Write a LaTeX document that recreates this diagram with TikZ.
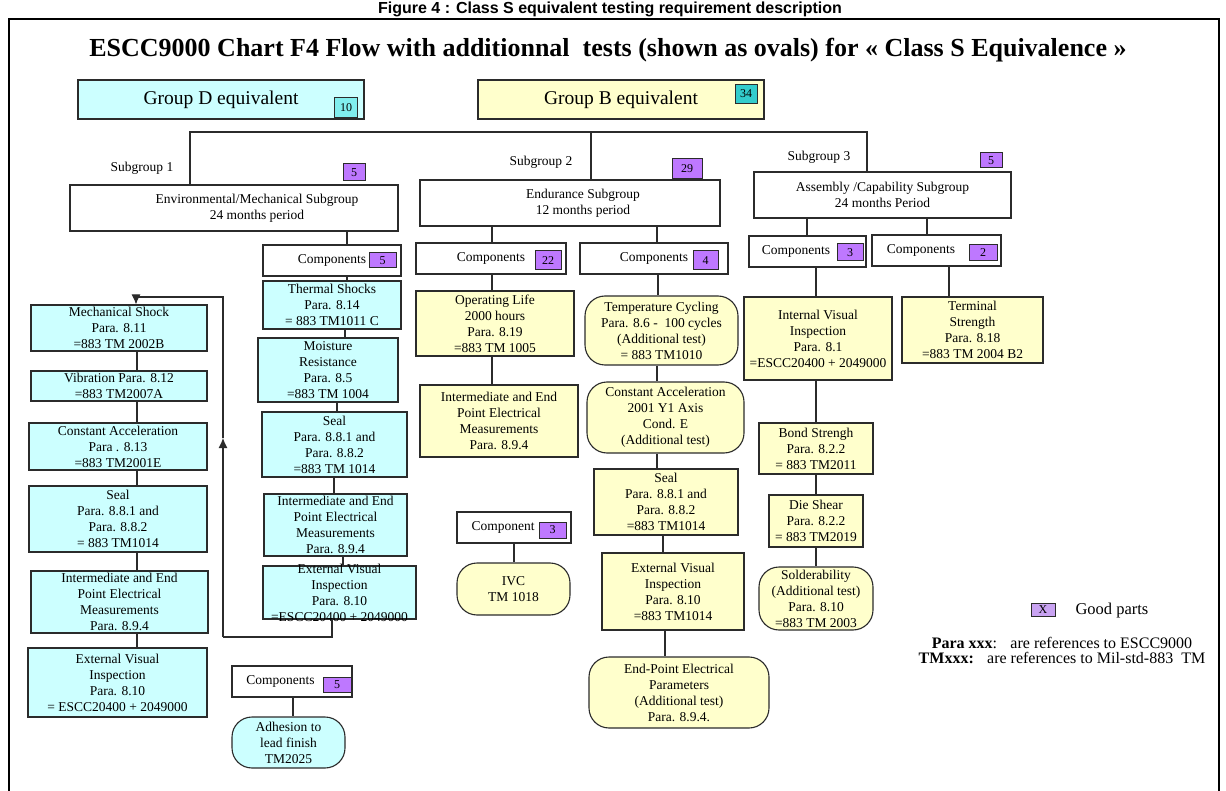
\documentclass[tikz,border=0pt]{standalone}
\usepackage{fontspec}
\setmainfont{Liberation Serif}
\newfontfamily\capfont{Liberation Sans}
\usepackage{tikz}
\usetikzlibrary{arrows.meta}

\definecolor{boxcyan}{HTML}{CCFFFF}
\definecolor{boxyellow}{HTML}{FFFFCC}
\definecolor{badgeviolet}{HTML}{BE78FF}
\definecolor{legendviolet}{HTML}{C9A3F2}
\definecolor{countcyan}{HTML}{80EEEE}
\definecolor{countteal}{HTML}{33CCCC}
\definecolor{linegray}{HTML}{2B2B2B}

\newcommand\fsz[2]{\fontsize{#1}{#2}\selectfont}

\begin{document}
\begin{tikzpicture}[x = 1pt, y = -1pt,
    testbox/.style = {draw = linegray, line width = 1.1pt, align = center,
      inner xsep = 1pt, inner ysep = 0pt, font = \fsz{13.5}{16}},
    dtest/.style = {testbox, fill = boxcyan},
    btest/.style = {testbox, fill = boxyellow},
    compbox/.style = {testbox, fill = white},
    oval/.style = {rounded corners = 20pt},
    badge/.style = {draw = linegray, line width = 1pt, fill = badgeviolet,
      inner sep = 0pt, font = \fsz{12}{12}},
    link/.style = {draw = linegray, line width = 1.1pt},
  ]
  \useasboundingbox (0, 0) rectangle (1226, 791);

  % caption, frame and title
  \node [font = \capfont\bfseries\fsz{16}{16}, anchor = base] (figure caption)
    at (610, 14) {Figure 4 : Class S equivalent testing requirement description};
  \draw [line width = 1.6pt] (9, 800) -- (9, 19) -- (1219, 19) -- (1219, 800);
  \node [font = \bfseries\fsz{26}{28}] (chart title) at (608, 50)
    {ESCC9000 Chart F4 Flow with additionnal~ tests (shown as ovals) for « Class S Equivalence »};

  % group boxes
  \node [dtest, minimum width = 286pt, minimum height = 39pt, font = \fsz{19.5}{21}]
    (group D) at (221, 99.5) {Group D equivalent};
  \node [badge, fill = countcyan, minimum width = 23pt, minimum height = 20pt]
    (group D count) at (346, 108) {10};
  \node [btest, minimum width = 286pt, minimum height = 39pt, font = \fsz{19.5}{21}]
    (group B) at (621, 99.5) {Group B equivalent};
  \node [badge, fill = countteal, minimum width = 22pt, minimum height = 19pt]
    (group B count) at (746, 94) {34};

  % subgroups
  \node [compbox, minimum width = 328pt, minimum height = 46pt] (env subgroup) at (234, 208)
    {\hspace*{46pt}Environmental/Mechanical Subgroup\\\hspace*{46pt}24 months period};
  \node [badge, minimum width = 22pt, minimum height = 17pt] (env count) at (354, 172.5) {5};
  \node [compbox, minimum width = 300pt, minimum height = 46pt] (end subgroup) at (570, 203)
    {\hspace*{26pt}Endurance Subgroup\\\hspace*{26pt}12 months period};
  \node [badge, minimum width = 30pt, minimum height = 20pt] (end count) at (687, 169) {29};
  \node [compbox, minimum width = 257pt, minimum height = 46pt] (asm subgroup) at (882.5, 195)
    {Assembly /Capability Subgroup\\24 months Period};
  \node [badge, minimum width = 22pt, minimum height = 15pt] (asm count) at (991, 160.5) {5};

  \node [font = \fsz{13.5}{15}] (subgroup 1) at (142, 168) {Subgroup 1};
  \node [font = \fsz{13.5}{15}] (subgroup 2) at (541, 162) {Subgroup 2};
  \node [font = \fsz{13.5}{15}] (subgroup 3) at (819, 157) {Subgroup 3};

  \coordinate (bus west) at (190, 132);
  \coordinate (bus middle) at (591, 132);
  \coordinate (bus east) at (867, 132);
  \draw [link] (env subgroup.north -| bus west) -- (bus west) -- (bus east)
    -- (asm subgroup.north -| bus east);
  \draw [link] (bus middle) -- (end subgroup.north -| bus middle);

  % components boxes
  \node [compbox, minimum width = 138pt, minimum height = 31pt] (comp env) at (332, 260.5) {Components};
  \node [badge, minimum width = 27pt, minimum height = 15pt] (comp env count) at (382.5, 260.5) {5};
  \node [compbox, minimum width = 150pt, minimum height = 31pt] (comp life) at (491, 258.5) {Components};
  \node [badge, minimum width = 26pt, minimum height = 19pt] (comp life count) at (548, 260.5) {22};
  \node [compbox, minimum width = 148pt, minimum height = 31pt] (comp cycle) at (654, 258.5) {Components};
  \node [badge, minimum width = 25pt, minimum height = 19pt] (comp cycle count) at (705.5, 260.5) {4};
  \node [compbox, minimum width = 117pt, minimum height = 31pt] (comp internal) at (807.5, 251.5)
    {Components\hspace*{23pt}};
  \node [badge, minimum width = 26pt, minimum height = 17pt] (comp internal count) at (850, 252.5) {3};
  \node [compbox, minimum width = 129pt, minimum height = 31pt] (comp terminal) at (936.5, 250.5)
    {Components\hspace*{31pt}};
  \node [badge, minimum width = 28pt, minimum height = 16pt] (comp terminal count) at (983, 253) {2};

  \draw [link] (env subgroup.south -| 347, 0) -- (comp env.north -| 347, 0);
  \draw [link] (end subgroup.south -| 492, 0) -- (comp life.north -| 492, 0);
  \draw [link] (end subgroup.south -| 657, 0) -- (comp cycle.north -| 657, 0);
  \draw [link] (asm subgroup.south -| 807, 0) -- (comp internal.north -| 807, 0);
  \draw [link] (asm subgroup.south -| 927, 0) -- (comp terminal.north -| 927, 0);

  % group D, first column
  \node [dtest, minimum width = 176pt, minimum height = 46pt] (mech shock) at (119, 328)
    {Mechanical Shock\\Para. 8.11\\=883 TM 2002B};
  \node [dtest, minimum width = 176pt, minimum height = 30pt] (vibration) at (119, 386)
    {Vibration Para. 8.12\\=883 TM2007A};
  \node [dtest, minimum width = 178pt, minimum height = 47pt] (acceleration D) at (118, 446.5)
    {Constant Acceleration\\Para . 8.13\\=883 TM2001E};
  \node [dtest, minimum width = 178pt, minimum height = 66pt] (seal D1) at (118, 519)
    {Seal\\Para. 8.8.1 and\\Para. 8.8.2\\= 883 TM1014};
  \node [dtest, minimum width = 177pt, minimum height = 62pt] (measure D1) at (119.5, 602)
    {Intermediate and End\\Point Electrical\\Measurements\\Para. 8.9.4};
  \node [dtest, minimum width = 179pt, minimum height = 69pt] (visual D1) at (117.5, 682.5)
    {External Visual\\Inspection\\Para. 8.10\\= ESCC20400 + 2049000};

  \draw [link] (mech shock.south -| 137, 0) -- (vibration.north -| 137, 0);
  \draw [link] (vibration.south -| 137, 0) -- (acceleration D.north -| 137, 0);
  \draw [link] (acceleration D.south -| 137, 0) -- (seal D1.north -| 137, 0);
  \draw [link] (seal D1.south -| 137, 0) -- (measure D1.north -| 137, 0);
  \draw [link] (measure D1.south -| 137, 0) -- (visual D1.north -| 137, 0);

  % group D, second column
  \node [dtest, minimum width = 138pt, minimum height = 48pt] (thermal) at (332, 305)
    {Thermal Shocks\\Para. 8.14\\= 883 TM1011 C};
  \node [dtest, minimum width = 140pt, minimum height = 64pt] (moisture) at (328, 370)
    {Moisture\\Resistance\\Para. 8.5\\=883 TM 1004};
  \node [dtest, minimum width = 145pt, minimum height = 65pt] (seal D2) at (334.5, 444.5)
    {Seal\\Para. 8.8.1 and\\Para. 8.8.2\\=883 TM 1014};
  \node [dtest, minimum width = 143pt, minimum height = 62pt] (measure D2) at (335.5, 525)
    {Intermediate and End\\Point Electrical\\Measurements\\Para. 8.9.4};
  \node [dtest, minimum width = 153pt, minimum height = 53pt, inner ysep = -4pt] (visual D2)
    at (339.5, 592.5) {External Visual\\Inspection\\Para. 8.10\\=ESCC20400 + 2049000};

  \draw [link] (comp env.south -| 347, 0) -- (thermal.north -| 347, 0);
  \draw [link] (thermal.south -| 345, 0) -- (moisture.north -| 345, 0);
  \draw [link] (moisture.south -| 337, 0) -- (seal D2.north -| 337, 0);
  \draw [link] (seal D2.south -| 334, 0) -- (measure D2.north -| 334, 0);
  \draw [link] (measure D2.south -| 343, 0) -- (visual D2.north -| 343, 0);

  % return loop to the first column
  \coordinate (loop bottom) at (223, 637);
  \coordinate (loop middle) at (223, 438);
  \coordinate (loop top) at (223, 297);
  \draw [link] (visual D2.south -| 332, 0) |- (loop bottom);
  \draw [link, -{Latex[length = 10pt, width = 9pt]}] (loop bottom) -- (loop middle);
  \draw [link, -{Latex[length = 10pt, width = 9pt]}] (loop middle) -- (loop top)
    -| (mech shock.north -| 136, 0);

  % group D, adhesion
  \node [compbox, minimum width = 120pt, minimum height = 31pt] (comp adhesion) at (292, 681.5)
    {Components\hspace*{23pt}};
  \node [badge, minimum width = 28pt, minimum height = 15pt] (comp adhesion count) at (337, 684.5) {5};
  \node [dtest, oval, minimum width = 113pt, minimum height = 51pt] (adhesion) at (288.5, 742.5)
    {Adhesion to\\lead finish\\TM2025};
  \draw [link] (comp adhesion.south -| 293, 0) -- (adhesion.north -| 293, 0);

  % group B, operating life
  \node [btest, minimum width = 158pt, minimum height = 65pt] (op life) at (495, 323.5)
    {Operating Life\\2000 hours\\Para. 8.19\\=883 TM 1005};
  \node [btest, minimum width = 158pt, minimum height = 72pt] (measure B) at (499, 421)
    {Intermediate and End\\Point Electrical\\Measurements\\Para. 8.9.4};
  \draw [link] (comp life.south -| 492, 0) -- (op life.north -| 492, 0);
  \draw [link] (op life.south -| 492, 0) -- (measure B.north -| 492, 0);

  \node [compbox, minimum width = 114pt, minimum height = 31pt] (comp ivc) at (514, 527.5)
    {Component\hspace*{22pt}};
  \node [badge, minimum width = 27pt, minimum height = 16pt] (comp ivc count) at (552.5, 530) {3};
  \node [btest, oval, minimum width = 113pt, minimum height = 52pt] (ivc) at (513.5, 589)
    {IVC\\TM 1018};
  \draw [link] (comp ivc.south -| 514, 0) -- (ivc.north -| 514, 0);

  % group B, temperature cycling chain
  \node [btest, oval, minimum width = 153pt, minimum height = 69pt] (temp cycling) at (661.5, 330.5)
    {Temperature Cycling\\Para. 8.6 -~~100 cycles\\(Additional test)\\= 883 TM1010};
  \node [btest, oval, minimum width = 157pt, minimum height = 71pt] (acceleration B) at (665.5, 417.5)
    {Constant Acceleration\\2001 Y1 Axis\\Cond. E\\(Additional test)};
  \node [btest, minimum width = 144pt, minimum height = 66pt] (seal B) at (666, 502)
    {Seal\\Para. 8.8.1 and\\Para. 8.8.2\\=883 TM1014};
  \node [btest, minimum width = 142pt, minimum height = 77pt] (visual B) at (673, 591.5)
    {External Visual\\Inspection\\Para. 8.10\\=883 TM1014};
  \node [btest, oval, minimum width = 180pt, minimum height = 71pt] (end point) at (679, 692.5)
    {End-Point Electrical\\Parameters\\(Additional test)\\Para. 8.9.4.};

  \draw [link] (comp cycle.south -| 658, 0) -- (temp cycling.north -| 658, 0);
  \draw [link] (temp cycling.south -| 657, 0) -- (acceleration B.north -| 657, 0);
  \draw [link] (acceleration B.south -| 657, 0) -- (seal B.north -| 657, 0);
  \draw [link] (seal B.south -| 663, 0) -- (visual B.north -| 663, 0);
  \draw [link] (visual B.south -| 665, 0) -- (end point.north -| 665, 0);

  % group B, assembly chain
  \node [btest, minimum width = 148pt, minimum height = 83pt] (internal visual) at (818, 338.5)
    {Internal Visual\\Inspection\\Para. 8.1\\=ESCC20400 + 2049000};
  \node [btest, minimum width = 114pt, minimum height = 51pt] (bond) at (816, 448.5)
    {Bond Strengh\\Para. 8.2.2\\= 883 TM2011};
  \node [btest, minimum width = 94pt, minimum height = 52pt] (die shear) at (816, 521)
    {Die Shear\\Para. 8.2.2\\= 883 TM2019};
  \node [btest, oval, minimum width = 114pt, minimum height = 63pt] (solderability) at (816, 598.5)
    {Solderability\\(Additional test)\\Para. 8.10\\=883 TM 2003};
  \node [btest, minimum width = 141pt, minimum height = 66pt] (terminal) at (972.5, 330)
    {Terminal\\Strength\\Para. 8.18\\=883 TM 2004 B2};

  \draw [link] (comp internal.south -| 816, 0) -- (internal visual.north -| 816, 0);
  \draw [link] (internal visual.south -| 816, 0) -- (bond.north -| 816, 0);
  \draw [link] (bond.south -| 816, 0) -- (die shear.north -| 816, 0);
  \draw [link] (die shear.south -| 816, 0) -- (solderability.north -| 816, 0);
  \draw [link] (comp terminal.south -| 949, 0) -- (terminal.north -| 949, 0);

  % legend
  \node [badge, fill = legendviolet, minimum width = 24pt, minimum height = 13pt]
    (legend badge) at (1043, 609.5) {X};
  \node [font = \fsz{16.5}{18}, anchor = west] (legend text) at (1072, 611) {Good parts};
  \node [font = \fsz{16}{14.5}, align = center] (reference note) at (1062, 650.5)
    {\textbf{Para xxx}:~~ are references to ESCC9000\\\textbf{TMxxx:}~~ are references to Mil-std-883~ TM};
\end{tikzpicture}
\end{document}
